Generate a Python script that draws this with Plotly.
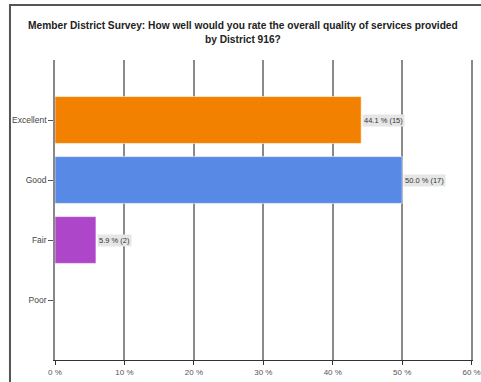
import plotly.graph_objects as go

# Survey responses
categories = ["Excellent", "Good", "Fair", "Poor"]
percentages = [44.1, 50.0, 5.9, 0.0]
counts = [15, 17, 2, 0]
bar_colors = ["#F28100", "#5889E4", "#AD46C9", "#999999"]
x_ticks = [0, 10, 20, 30, 40, 50, 60]

title_text = ("<b>Member District Survey: How well would you rate the overall quality of services provided"
              "<br>by District 916?</b>")

fig = go.Figure()

fig.add_trace(go.Bar(
    y=categories,
    x=percentages,
    orientation="h",
    width=0.78,
    marker=dict(color=bar_colors, line=dict(color="rgba(255,255,255,0.6)", width=1)),
    hoverinfo="skip",
    showlegend=False,
))

# Value labels in small grey boxes to the right of each non-empty bar
for cat, pct, n in zip(categories, percentages, counts):
    if n == 0:
        continue
    fig.add_annotation(
        x=pct, y=cat, xref="x", yref="y",
        text=f"{pct:.1f} % ({n})",
        showarrow=False, xanchor="left", yanchor="middle", xshift=1,
        bgcolor="#E6E6E6", borderpad=1,
        font=dict(family="Arial, Liberation Sans, sans-serif", size=7.5, color="#333333"),
    )

# Frame along the top and left edge of the panel
fig.add_shape(
    type="path", xref="paper", yref="paper",
    path="M -0.1077,-0.2 L -0.1077,1.1833 L 1.1,1.1833",
    line=dict(color="#555555", width=2),
)

fig.update_layout(
    width=481, height=382,
    margin=dict(l=55, r=8, t=60, b=22, autoexpand=False),
    paper_bgcolor="white",
    plot_bgcolor="white",
    title=dict(
        text=title_text, x=0.505, xanchor="center", y=0.923, yanchor="top",
        font=dict(family="Arial, Liberation Sans, sans-serif", size=10.2, color="#222222"),
    ),
    font=dict(family="Arial, Liberation Sans, sans-serif", size=8, color="#444444"),
    bargap=0.2,
)

fig.update_xaxes(
    range=[0, 60.2],
    automargin=False,
    tickvals=x_ticks,
    ticktext=[f"{v} %" for v in x_ticks],
    ticklabeloverflow="allow",
    showgrid=True, gridcolor="#8A8A8A", gridwidth=1.5,
    showline=True, linecolor="#333333", linewidth=1,
    ticks="outside", ticklen=4, tickcolor="#333333",
    tickfont=dict(size=8, color="#555555"),
    zeroline=False, fixedrange=True,
)

fig.update_yaxes(
    type="category",
    categoryorder="array",
    categoryarray=categories[::-1],
    range=[-1, 4],
    automargin=False,
    showgrid=False,
    showline=True, linecolor="#888888", linewidth=1.5,
    ticks="outside", ticklen=5, tickcolor="#555555",
    tickfont=dict(size=8.5, color="#444444"),
    zeroline=False, fixedrange=True,
)

fig.write_html("out.html")
